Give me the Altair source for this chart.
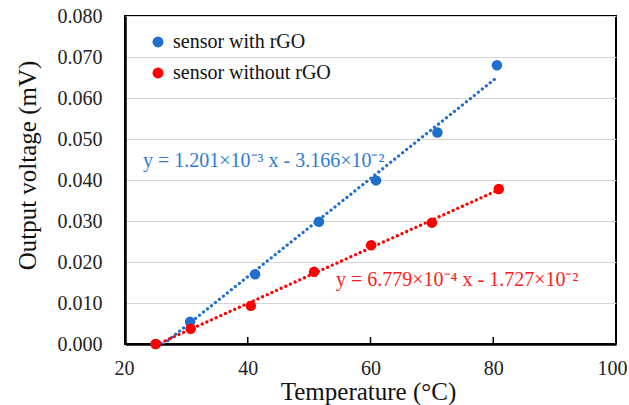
import altair as alt
import pandas as pd

# ---- data ----
temp_with = [25.0, 30.6, 41.2, 51.6, 60.9, 70.9, 80.6]
volt_with = [0.0, 0.0054, 0.0170, 0.0298, 0.0399, 0.0516, 0.0680]
temp_without = [25.0, 30.7, 40.5, 50.8, 60.1, 70.0, 80.9]
volt_without = [0.0, 0.0037, 0.0093, 0.0176, 0.0241, 0.0296, 0.0378]
series_names = ["sensor with rGO", "sensor without rGO"]
line_names = ["fit with rGO", "fit without rGO"]
series_colors = ["#1f6fcc", "#ff0000"]
eq_text = ["y = 1.201×10⁻³ x - 3.166×10⁻²", "y = 6.779×10⁻⁴ x - 1.727×10⁻²"]
eq_colors = ["#2f7bd3", "#ff1a1a"]
x_ticks = [20, 40, 60, 80, 100]
inner_ticks = [40, 60, 80]
y_ticks = [0.0, 0.01, 0.02, 0.03, 0.04, 0.05, 0.06, 0.07, 0.08]

df = pd.DataFrame({
    "temp": temp_with + temp_without,
    "volt": volt_with + volt_without,
    "series": [series_names[0]] * len(temp_with) + [series_names[1]] * len(temp_without),
    "fit": [line_names[0]] * len(temp_with) + [line_names[1]] * len(temp_without),
})

FONT = "Liberation Serif"
W, H = 491, 328

xscale = alt.Scale(domain=[20, 100], nice=False)
yscale = alt.Scale(domain=[0, 0.08], nice=False)
cscale = alt.Scale(domain=series_names, range=series_colors)
sscale = alt.Scale(domain=line_names, range=series_colors)

x_axis = alt.Axis(
    values=x_ticks, format="d", title="Temperature (°C)", grid=False,
    ticks=False, tickSize=0, labelPadding=30, labelBaseline="alphabetic",
    labelFlush=True, labelFlushOffset=11, labelOverlap=False,
    labelFontSize=20, labelFont=FONT, labelColor="#222",
    titleFontSize=25, titleFont=FONT, titleFontWeight="normal", titleColor="#111",
    titleBaseline="alphabetic", titleY=55, titleX=243,
    domainColor="#000", domainWidth=2.5)
y_axis = alt.Axis(
    values=y_ticks, format=".3f", title="Output voltage (mV)",
    grid=True, gridColor="#d4d4d4", gridWidth=1.2,
    ticks=False, tickSize=0, labelPadding=23, labelFlush=False, labelOverlap=False,
    labelFontSize=20, labelFont=FONT, labelColor="#222",
    titleFontSize=25, titleFont=FONT, titleFontWeight="normal", titleColor="#111",
    titleBaseline="alphabetic", titleX=-90, titleY=149, titleAngle=-90,
    domainColor="#000", domainWidth=2.5)


def xe(field):
    return alt.X(field, scale=xscale, axis=x_axis)


def ye(field):
    return alt.Y(field, scale=yscale, axis=y_axis)


base = alt.Chart(df)

lines = base.transform_regression(
    "temp", "volt", groupby=["fit"]
).mark_line(
    strokeDash=[0.1, 5], strokeCap="round", strokeWidth=3.2, clip=True
).encode(
    x=xe("temp:Q"),
    y=ye("volt:Q"),
    stroke=alt.Stroke("fit:N", scale=sscale, legend=None),
)

points = base.mark_point(filled=True, opacity=1, size=110, shape="circle").encode(
    x=xe("temp:Q"),
    y=ye("volt:Q"),
    color=alt.Color("series:N", scale=cscale, legend=alt.Legend(
        title=None, orient="none", legendX=23, legendY=16, padding=0,
        labelFont=FONT, labelFontSize=20, labelColor="#111", labelLimit=400,
        labelOffset=5, rowPadding=11, symbolSize=120, symbolType="circle",
        symbolStrokeWidth=0)),
)

ticks = alt.Chart(pd.DataFrame({"temp": inner_ticks})).mark_rule(
    color="#000", strokeWidth=1.5
).encode(
    x=xe("temp:Q"),
    y=alt.value(H),
    y2=alt.value(H - 7),
)

eq_df = pd.DataFrame({"label": eq_text, "col": eq_colors})
eq1 = alt.Chart(eq_df.iloc[[0]]).mark_text(
    font=FONT, fontSize=20, align="left", baseline="alphabetic"
).encode(
    text="label:N", color=alt.Color("col:N", scale=None),
    x=alt.value(18), y=alt.value(151),
)
eq2 = alt.Chart(eq_df.iloc[[1]]).mark_text(
    font=FONT, fontSize=20, align="left", baseline="alphabetic"
).encode(
    text="label:N", color=alt.Color("col:N", scale=None),
    x=alt.value(211), y=alt.value(270),
)

chart = alt.layer(lines, ticks, eq1, eq2, points).properties(
    width=W, height=H,
    padding={"left": 125, "top": 16, "right": 13, "bottom": 61},
    autosize="none",
    background="white",
).configure_view(
    stroke="#000", strokeWidth=2
)

chart.save("out.html", embed_options={"renderer": "svg", "actions": False})
